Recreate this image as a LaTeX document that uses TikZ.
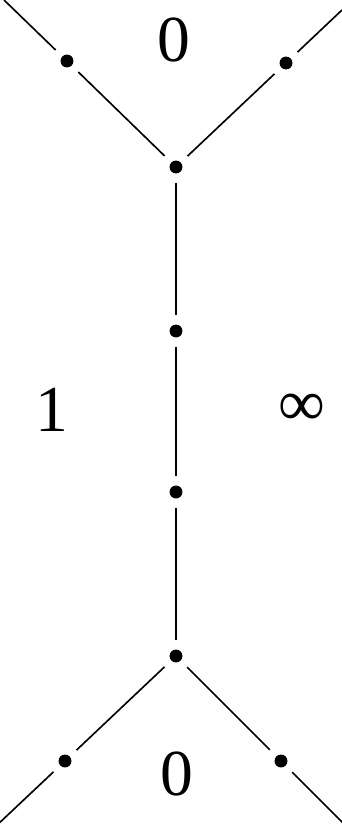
\documentclass[tikz,border=0pt]{standalone}
\usepackage{fontspec}
\setmainfont{Liberation Serif}
\begin{document}
\begin{tikzpicture}[x=0.03cm,y=-0.03cm,
  dot/.style={circle,fill=black,inner sep=0pt,minimum size=11pt,outer sep=8pt},
  edge/.style={line width=1.4pt},
  lab/.style={font=\fontsize{56}{60}\selectfont,inner sep=0pt}]
\useasboundingbox (0,0) rectangle (342,827);
\clip (0,0) rectangle (342,827);
\node[dot] (tl) at (67,61) {};
\node[dot] (tr) at (286,63) {};
\node[dot] (tc) at (176,167) {};
\node[dot] (m1) at (176,331) {};
\node[dot] (m2) at (176,492) {};
\node[dot] (bc) at (176,656) {};
\node[dot] (bl) at (65,761) {};
\node[dot] (br) at (281,761) {};
\coordinate (etl) at (4,0);
\coordinate (etr) at (342,10);
\coordinate (ebl) at (-5,827);
\coordinate (ebr) at (346,826);
\draw[edge] (etl) -- (tl);
\draw[edge] (tl) -- (tc);
\draw[edge] (etr) -- (tr);
\draw[edge] (tr) -- (tc);
\draw[edge] (tc) -- (m1);
\draw[edge] (m1) -- (m2);
\draw[edge] (m2) -- (bc);
\draw[edge] (bc) -- (bl);
\draw[edge] (bl) -- (ebl);
\draw[edge] (bc) -- (br);
\draw[edge] (br) -- (ebr);
\node[lab] (z1) at (174,40) {0};
\node[lab] (z2) at (177,774) {0};
\node[lab] (one) at (52,410) {1};
\node[lab] (inf) at (302,410) {∞};
\end{tikzpicture}
\end{document}
